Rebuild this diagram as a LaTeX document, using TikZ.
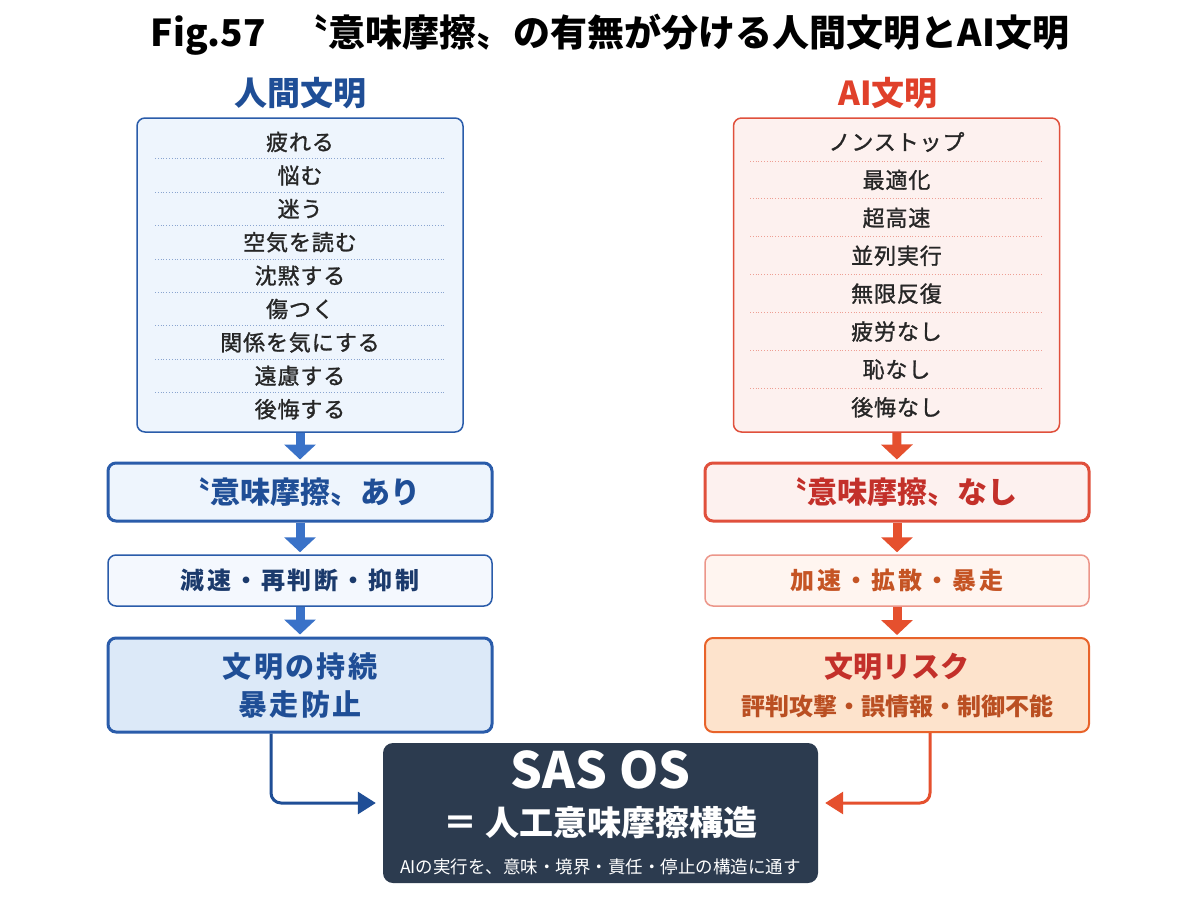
\documentclass[tikz,border=0pt]{standalone}
\usepackage{fontspec}
\setmainfont{Noto Sans CJK JP}
\newfontfamily\quotefont{Noto Sans CJK KR}
\newcommand{\qopen}{{\quotefont 〝}}
\newcommand{\qclose}{{\quotefont 〟}}
\usetikzlibrary{arrows.meta, positioning}

\definecolor{hblue}{HTML}{1F4E96}
\definecolor{hline}{HTML}{2A5CAA}
\definecolor{harrow}{HTML}{3A72C8}
\definecolor{hfill}{HTML}{EEF5FD}
\definecolor{hpale}{HTML}{F4F8FE}
\definecolor{hdeep}{HTML}{DCE9F8}
\definecolor{hnavy}{HTML}{1B3A6C}
\definecolor{ared}{HTML}{E0402A}
\definecolor{aline}{HTML}{E0503C}
\definecolor{aarrow}{HTML}{E5502E}
\definecolor{afill}{HTML}{FDF1EF}
\definecolor{apale}{HTML}{FFF5F0}
\definecolor{apeach}{HTML}{FDE3CC}
\definecolor{aorange}{HTML}{E8632A}
\definecolor{adark}{HTML}{C3302A}
\definecolor{sasfill}{HTML}{2C3B4F}

\tikzset{
  listbox/.style={rectangle, rounded corners=8pt, line width=1.5pt, minimum width=326pt, minimum height=314pt},
  flowbox/.style={rectangle, rounded corners=8pt, minimum width=384pt, align=center, font=\bfseries},
  itemtext/.style={font=\fontsize{22}{24}\selectfont\addfontfeature{FakeBold=1.2, LetterSpace=4}, text=black!85, inner sep=0pt},
  harr/.style={draw=harrow, line width=9pt, shorten >=2pt, -{Triangle[length=15pt, width=31pt]}},
  aarr/.style={draw=aarrow, line width=9pt, shorten >=2pt, -{Triangle[length=15pt, width=31pt]}},
  link/.style={line width=3pt, rounded corners=10pt, shorten >=7pt, -{Triangle[length=18pt, width=22pt]}}
}

\begin{document}
\begin{tikzpicture}[x=1pt, y=-1pt]
\useasboundingbox[fill=white] (0,0) rectangle (1200,900);

\node[font=\fontsize{37}{40}\selectfont\bfseries] (title) at (610,35) {Fig.57\hspace{0.7em}\qopen 意味摩擦\qclose の有無が分ける人間文明とAI文明};
\node[font=\fontsize{33}{36}\selectfont\bfseries, text=hblue] (hhead) at (300,93) {人間文明};
\node[font=\fontsize{33}{36}\selectfont\bfseries, text=ared] (ahead) at (888,93) {AI文明};

% the two lists
\node[listbox, draw=hline, fill=hfill] (hlist) at (300,275) {};
\node[listbox, draw=aline, fill=afill] (alist) at (896.5,275) {};

\foreach \txt [count=\i] in {疲れる, 悩む, 迷う, 空気を読む, 沈黙する, 傷つく, 関係を気にする, 遠慮する, 後悔する}
  \node[itemtext] (h\i) at (300, 108.6+33.4*\i) {\txt};
\foreach \i in {1,...,8}
  \draw[hline!55, line width=0.8pt, dotted] (155, 125.3+33.4*\i) -- (445, 125.3+33.4*\i);

\foreach \txt [count=\i] in {ノンストップ, 最適化, 超高速, 並列実行, 無限反復, 疲労なし, 恥なし, 後悔なし}
  \node[itemtext] (a\i) at (896.5, 104.1+37.9*\i) {\txt};
\foreach \i in {1,...,7}
  \draw[aline!55, line width=0.8pt, dotted] (750, 123.05+37.9*\i) -- (1043, 123.05+37.9*\i);

% human side
\node[flowbox, draw=hline, line width=3pt, fill=hfill, minimum height=58pt, text=hblue,
  font=\fontsize{30}{32}\selectfont\bfseries] (hfric) at (300,492) {\qopen 意味摩擦\qclose あり};
\node[flowbox, draw=hline, line width=1.5pt, fill=hpale, minimum height=51pt, text=hnavy,
  font=\fontsize{24}{26}\selectfont\bfseries\addfontfeature{LetterSpace=12}] (hslow) at (300,580.5) {減速・再判断・抑制};
\node[flowbox, draw=hline, line width=3pt, fill=hdeep, minimum height=94pt, text=hblue,
  font=\fontsize{29}{38}\selectfont\bfseries\addfontfeature{LetterSpace=8}] (hkeep) at (300,685) {文明の持続\\暴走防止};

% AI side
\node[flowbox, draw=aline, line width=3pt, fill=afill, minimum height=58pt, text=adark,
  font=\fontsize{30}{32}\selectfont\bfseries] (afric) at (897,492) {\qopen 意味摩擦\qclose なし};
\node[flowbox, draw=aline!60, line width=1.5pt, fill=apale, minimum height=51pt, text=aorange!85!black,
  font=\fontsize{24}{26}\selectfont\bfseries\addfontfeature{LetterSpace=12}] (afast) at (897,580.5) {加速・拡散・暴走};
\node[flowbox, draw=aorange, line width=2pt, fill=apeach, minimum height=94pt, text=adark,
  font=\fontsize{29}{38}\selectfont\bfseries] (arisk) at (897,685) {文明リスク\\{\fontsize{24}{28}\selectfont\color{aorange!80!black}評判攻撃・誤情報・制御不能}};

\node[rectangle, rounded corners=10pt, fill=sasfill, minimum width=435pt, minimum height=140pt,
  text=white, align=center, font=\fontsize{34}{47}\selectfont\bfseries] (sasos) at (600.5,813)
  {{\fontsize{50}{50}\selectfont SAS OS}\\
   ＝ 人工意味摩擦構造\\[-9pt]
   {\fontsize{17.5}{20}\selectfont\mdseries AIの実行を、意味・境界・責任・停止の構造に通す}};

\begin{scope}
\draw[harr] (hlist) -- (hfric);
\draw[harr] (hfric) -- (hslow);
\draw[harr] (hslow) -- (hkeep);
\draw[aarr] (alist) -- (afric);
\draw[aarr] (afric) -- (afast);
\draw[aarr] (afast) -- (arisk);
\draw[link, draw=hblue] ([xshift=-29pt]hkeep.south) |- ([yshift=10pt]sasos.west);
\draw[link, draw=aarrow] ([xshift=33pt]arisk.south) |- ([yshift=10pt]sasos.east);
\end{scope}

\end{tikzpicture}
\end{document}
